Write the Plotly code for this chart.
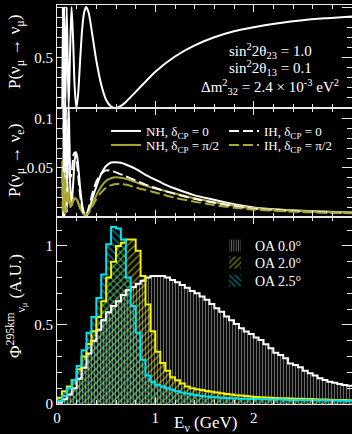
import numpy as np
import plotly.graph_objects as go
from plotly.subplots import make_subplots

# ---------------- data ----------------
# Panel 1: P(numu -> numu)
E_mumu = [0.054, 0.059, 0.066, 0.074, 0.085, 0.099, 0.118, 0.132, 0.148, 0.165, 0.180,
          0.197, 0.215, 0.235, 0.255, 0.275, 0.296, 0.32, 0.36, 0.40, 0.45, 0.50, 0.55,
          0.60, 0.65, 0.70, 0.80, 0.90, 1.00, 1.20, 1.40, 1.60, 1.80, 2.00, 2.25, 2.50,
          2.75, 3.00]
P_mumu = [0.00, 1.00, 0.00, 1.00, 0.00, 1.00, 0.00, 0.52, 1.00, 0.64, 0.20,
          0.00, 0.14, 0.47, 0.77, 0.94, 1.00, 0.95, 0.72, 0.47, 0.23, 0.08, 0.015,
          0.00, 0.02, 0.06, 0.16, 0.26, 0.36, 0.51, 0.62, 0.70, 0.76, 0.80, 0.84, 0.87,
          0.89, 0.907]

# Panel 2: P(numu -> nue)
E_nh0 = [0.054, 0.059, 0.066, 0.074, 0.085, 0.099, 0.118, 0.135, 0.148, 0.165, 0.18, 0.195,
         0.21, 0.235, 0.26, 0.285, 0.30, 0.33, 0.36, 0.40, 0.45, 0.50, 0.55, 0.60, 0.65,
         0.70, 0.80, 0.90, 1.00, 1.10, 1.20, 1.40, 1.60, 1.80, 2.00, 2.25, 2.50, 2.75, 3.00]
P_nh0 = [0.00, 0.00, 0.15, 0.00, 0.14, 0.005, 0.12, 0.03, 0.012, 0.035, 0.058, 0.066,
         0.058, 0.030, 0.010, 0.002, 0.001, 0.008, 0.019, 0.031, 0.044, 0.052, 0.0555, 0.0558, 0.0552,
         0.0535, 0.049, 0.043, 0.038, 0.033, 0.029, 0.022, 0.0175, 0.013, 0.0098, 0.0077, 0.0063, 0.0053, 0.0047]

E_ih0 = [0.054, 0.059, 0.066, 0.074, 0.085, 0.099, 0.118, 0.135, 0.15, 0.17, 0.185, 0.20,
         0.225, 0.25, 0.275, 0.30, 0.33, 0.36, 0.40, 0.45, 0.50, 0.55, 0.60, 0.70, 0.80,
         0.90, 1.00, 1.20, 1.40, 1.60, 1.80, 2.00, 2.50, 3.00]
P_ih0 = [0.00, 0.00, 0.14, 0.00, 0.13, 0.005, 0.10, 0.04, 0.045, 0.064, 0.066, 0.058,
         0.032, 0.012, 0.003, 0.003, 0.012, 0.024, 0.036, 0.044, 0.0475, 0.047, 0.0455, 0.0415, 0.037,
         0.033, 0.0295, 0.0235, 0.0185, 0.0145, 0.011, 0.0085, 0.0055, 0.004]

E_nhpi = [0.054, 0.059, 0.066, 0.074, 0.085, 0.099, 0.118, 0.135, 0.15, 0.17, 0.19, 0.21,
          0.24, 0.27, 0.30, 0.33, 0.36, 0.40, 0.45, 0.50, 0.55, 0.60, 0.65, 0.70, 0.80,
          0.90, 1.00, 1.20, 1.40, 1.60, 1.80, 2.00, 2.50, 3.00]
P_nhpi = [0.057, 0.005, 0.050, 0.005, 0.045, 0.008, 0.030, 0.010, 0.012, 0.017, 0.019, 0.016,
          0.008, 0.003, 0.003, 0.007, 0.013, 0.022, 0.031, 0.037, 0.0395, 0.0405, 0.040, 0.039, 0.0355,
          0.032, 0.029, 0.024, 0.019, 0.015, 0.0115, 0.009, 0.006, 0.0045]

E_ihpi = [0.054, 0.059, 0.066, 0.074, 0.085, 0.099, 0.118, 0.135, 0.15, 0.175, 0.20, 0.23,
          0.26, 0.29, 0.32, 0.36, 0.40, 0.45, 0.50, 0.55, 0.60, 0.65, 0.70, 0.80, 0.90,
          1.00, 1.20, 1.40, 1.60, 1.80, 2.00, 2.50, 3.00]
P_ihpi = [0.045, 0.005, 0.045, 0.004, 0.040, 0.006, 0.026, 0.010, 0.013, 0.020, 0.018, 0.010,
          0.004, 0.002, 0.004, 0.011, 0.018, 0.025, 0.030, 0.0325, 0.0335, 0.0335, 0.033, 0.030, 0.0275,
          0.025, 0.0195, 0.0155, 0.012, 0.0095, 0.0075, 0.005, 0.0038]

# Panel 3: flux histograms, 60 bins of 0.05 GeV from 0 to 3 GeV
bin_edges = [round(0.05 * i, 2) for i in range(61)]
flux_oa00 = [0.01, 0.03, 0.06, 0.10, 0.16, 0.23, 0.32, 0.40, 0.47, 0.53, 0.58, 0.62, 0.65, 0.69,
             0.72, 0.74, 0.76, 0.78, 0.80, 0.81, 0.81, 0.81, 0.80, 0.785, 0.77, 0.753, 0.735,
             0.715, 0.70, 0.68, 0.66, 0.633, 0.605, 0.584, 0.553, 0.53, 0.506, 0.48, 0.458,
             0.443, 0.42, 0.405, 0.378, 0.352, 0.325, 0.31, 0.29, 0.257, 0.247, 0.232, 0.21,
             0.194, 0.18, 0.163, 0.152, 0.141, 0.135, 0.127, 0.12, 0.115]
flux_oa20 = [0.04, 0.08, 0.11, 0.15, 0.22, 0.30, 0.38, 0.46, 0.55, 0.65, 0.80, 0.90, 1.00, 1.02,
             1.04, 1.04, 0.97, 0.81, 0.63, 0.46, 0.33, 0.26, 0.21, 0.17, 0.15, 0.13, 0.11, 0.10,
             0.093, 0.088, 0.083, 0.078, 0.073, 0.068, 0.063, 0.060, 0.056, 0.053, 0.050, 0.047,
             0.045, 0.043, 0.041, 0.040, 0.038, 0.037, 0.036, 0.035, 0.034, 0.033, 0.032, 0.031,
             0.030, 0.029, 0.028, 0.027, 0.026, 0.025, 0.025, 0.024]
flux_oa25 = [0.02, 0.05, 0.10, 0.15, 0.24, 0.34, 0.45, 0.55, 0.67, 0.82, 1.01, 1.12, 1.11, 1.04,
             0.80, 0.62, 0.45, 0.28, 0.18, 0.14, 0.12, 0.11, 0.10, 0.09, 0.08, 0.072, 0.066,
             0.060, 0.055, 0.050, 0.047, 0.044, 0.042, 0.040, 0.038, 0.036, 0.035, 0.034, 0.033,
             0.032, 0.031, 0.030, 0.030, 0.029, 0.028, 0.028, 0.027, 0.026, 0.026, 0.025, 0.025,
             0.024, 0.024, 0.023, 0.023, 0.022, 0.022, 0.021, 0.021, 0.020]

# ---------------- layout helpers ----------------
W, H = 352, 434
ML, MR, MT, MB = 57, 0, 5, 30
PW, PH = W - ML - MR, H - MT - MB
FONT = "Liberation Serif"
AX = "#e8e8e8"
OLIVE = "#a8a832"
YEL = "#f0f000"
CYAN = "#00e0f0"


def fx(px):
    return (px - ML) / PW


def fy(py):
    return (H - MB - py) / PH


fig = make_subplots(rows=3, cols=1, shared_xaxes=True, vertical_spacing=0,
                    row_heights=[103, 109, 187])

# panel 1
fig.add_trace(go.Scatter(x=E_mumu, y=P_mumu, mode="lines",
                         line=dict(color="white", width=2, shape="spline", smoothing=0.8),
                         showlegend=False), row=1, col=1)

# panel 2
curves = [
    (E_nh0, P_nh0, "white", "solid", "NH, δ<sub>CP</sub> = 0", "legend"),
    (E_nhpi, P_nhpi, OLIVE, "solid", "NH, δ<sub>CP</sub> = π/2", "legend2"),
    (E_ih0, P_ih0, "white", "10px,4px", "IH, δ<sub>CP</sub> = 0", "legend3"),
    (E_ihpi, P_ihpi, OLIVE, "10px,4px", "IH, δ<sub>CP</sub> = π/2", "legend4"),
]
for ex, py_, col, dash, name, leg in curves:
    fig.add_trace(go.Scatter(x=ex, y=py_, mode="lines", name=name, legend=leg,
                             line=dict(color=col, width=2, dash=dash, shape="spline", smoothing=0.6)),
                  row=2, col=1)

# panel 3
centers = [(bin_edges[i] + bin_edges[i + 1]) / 2 for i in range(60)]
hists = [
    (flux_oa00, "white", "#d0d0d0", "|", 3, 0.4, "OA 0.0°", "legend5"),
    (flux_oa20, YEL, YEL, "/", 5, 0.32, "OA 2.0°", "legend6"),
    (flux_oa25, CYAN, CYAN, "\\", 5, 0.32, "OA 2.5°", "legend7"),
]
for vals, lc, pc, shp, sz, sol, name, leg in hists:
    fig.add_trace(go.Bar(x=centers, y=vals, width=0.05, name=name, legend=leg,
                         marker=dict(color="rgba(0,0,0,0)", line=dict(width=0),
                                     pattern=dict(shape=shp, fgcolor=pc, bgcolor="rgba(0,0,0,0)",
                                                  size=sz, solidity=sol))),
                  row=3, col=1)
for vals, lc, pc, shp, sz, sol, name, leg in hists:
    fig.add_trace(go.Scatter(x=[bin_edges[0]] + bin_edges, y=[0] + vals + [vals[-1]],
                             mode="lines", line=dict(color=lc, width=2, shape="hv"),
                             showlegend=False), row=3, col=1)

# axes
xcommon = dict(range=[0, 3.0], showline=True, linecolor=AX, linewidth=1, mirror="ticks",
               ticks="inside", ticklen=7, tickcolor=AX, tickvals=[0, 1, 2, 3],
               showgrid=False, zeroline=False,
               minor=dict(tickmode="linear", tick0=0, dtick=0.2, ticks="inside", ticklen=4,
                          tickcolor=AX, showgrid=False))
for i in (1, 2, 3):
    fig.update_xaxes(**xcommon, row=i, col=1)
fig.update_xaxes(tickfont=dict(family=FONT, size=15, color="white"), row=3, col=1)

ycommon = dict(showline=True, linecolor=AX, linewidth=1, mirror="ticks", ticks="inside",
               ticklen=10, tickcolor=AX, showgrid=False, zeroline=False,
               tickfont=dict(family=FONT, size=15, color="white"))
fig.update_yaxes(**ycommon, range=[0, 1.02], tickvals=[0.5, 1], ticktext=["0.5", "1"],
                 minor=dict(tickmode="linear", tick0=0, dtick=0.1, ticks="inside", ticklen=5,
                            tickcolor=AX, showgrid=False), row=1, col=1)
fig.update_yaxes(**ycommon, range=[0, 0.111], tickvals=[0.05, 0.1], ticktext=["0.05", "0.1"],
                 minor=dict(tickmode="linear", tick0=0, dtick=0.01, ticks="inside", ticklen=5,
                            tickcolor=AX, showgrid=False), row=2, col=1)
fig.update_yaxes(**ycommon, range=[0, 1.183], tickvals=[0, 0.5, 1], ticktext=["0", "0.5", "1"],
                 minor=dict(tickmode="linear", tick0=0, dtick=0.1, ticks="inside", ticklen=5,
                            tickcolor=AX, showgrid=False), row=3, col=1)

ann = []
ytitles = [("P(ν<sub>μ</sub> → ν<sub>μ</sub>)", 52),
           ("P(ν<sub>μ</sub> → ν<sub>e</sub>)", 161),
           ("Φ<sup>295km</sup><sub>ν<sub>μ</sub></sub> (A.U.)", 306)]
for txt, py in ytitles:
    ann.append(dict(text=txt, x=fx(16), y=fy(py), xref="paper", yref="paper",
                    xanchor="center", yanchor="middle", textangle=-90, showarrow=False,
                    font=dict(family=FONT, size=17, color="white")))
ann.append(dict(text="E<sub>ν</sub> (GeV)", x=fx(205), y=fy(424), xref="paper", yref="paper",
                xanchor="center", yanchor="middle", showarrow=False,
                font=dict(family=FONT, size=17, color="white")))
for txt, py in [("sin<sup>2</sup>2θ<sub>23</sub> = 1.0", 51),
                ("sin<sup>2</sup>2θ<sub>13</sub> = 0.1", 68),
                ("Δm<sup>2</sup><sub>32</sub> = 2.4 × 10<sup>-3</sup> eV<sup>2</sup>", 87)]:
    ann.append(dict(text=txt, x=fx(270), y=fy(py), xref="paper", yref="paper",
                    xanchor="center", yanchor="middle", showarrow=False,
                    font=dict(family=FONT, size=15, color="white")))

legs = {}
legpos = {"legend": (106, 131, 13), "legend2": (106, 145, 13),
          "legend3": (224, 131, 13), "legend4": (224, 145, 13),
          "legend5": (215, 246, 14), "legend6": (215, 263, 14), "legend7": (215, 281, 14)}
for k, (px, py, fs) in legpos.items():
    legs[k] = dict(x=fx(px), y=fy(py), xref="paper", yref="paper", xanchor="left",
                   yanchor="middle", bgcolor="rgba(0,0,0,0)", borderwidth=0,
                   font=dict(family=FONT, size=fs, color="white"), itemwidth=30)

fig.update_layout(width=W, height=H, margin=dict(l=ML, r=MR, t=MT, b=MB, autoexpand=False),
                  paper_bgcolor="black", plot_bgcolor="black", barmode="overlay", bargap=0,
                  annotations=ann, **legs)

fig.write_html("out.html")
